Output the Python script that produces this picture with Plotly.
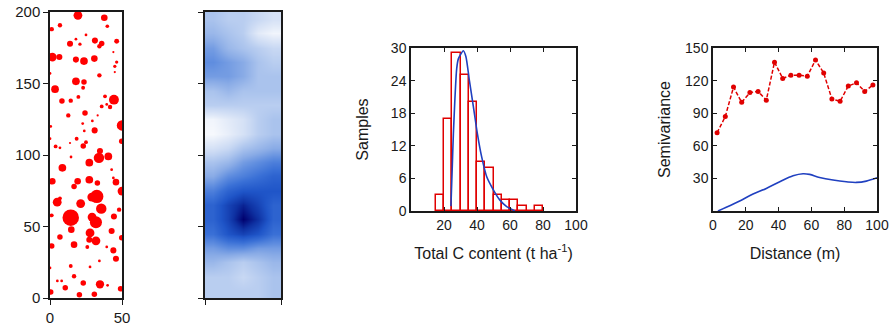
import plotly.graph_objects as go

# ---------------- Panel 1: tree map (bubbles) ----------------
tree_x = [19.4, 37.7, 1.2, 6.9, 39.8, 18.0, 13.9, 20.8, 25.0, 31.2, 35.9, 46.3, 34.3,
          1.6, 6.5, 18.0, 23.6, 30.8, 44.0, 46.3, 45.0, 0.0, 34.3, 45.0, 18.0, 23.6,
          3.5, 23.0, 8.3, 14.4, 19.7, 38.2, 44.4, 35.9, 39.4, 41.7, 12.7, 24.3, 33.1,
          50.0, 0.5, 22.7, 29.4, 31.0, 23.8, 0.0, 18.5, 49.8, 13.9, 25.0, 23.1, 3.9,
          6.9, 34.7, 34.0, 40.5, 14.6, 27.3, 8.6, 42.8, 1.6, 19.2, 27.3, 32.9, 44.0,
          45.8, 16.7, 50.0, 32.5, 29.0, 5.0, 21.3, 6.9, 35.6, 48.0, 1.2, 14.4, 29.2,
          31.9, 44.4, 14.8, 27.8, 42.8, 6.9, 31.9, 27.3, 49.8, 16.7, 25.9, 1.2, 39.4,
          44.0, 34.3, 45.8, 0.0, 14.4, 27.8, 16.7, 5.1, 8.1, 10.6, 23.1, 34.7, 40.0,
          49.0, 0.5, 20.4, 30.8]
tree_y = [197.7, 196.0, 188.0, 190.7, 190.0, 181.0, 177.8, 177.5, 184.0, 180.0, 178.0,
          179.5, 176.0, 168.5, 168.5, 166.7, 165.7, 167.4, 172.0, 165.0, 162.0, 157.0,
          155.7, 158.0, 151.5, 151.0, 146.0, 147.0, 137.8, 138.0, 140.6, 141.0, 138.7,
          134.0, 135.4, 133.6, 127.7, 129.4, 127.7, 120.7, 120.0, 122.0, 123.8, 117.2,
          116.8, 111.4, 111.4, 109.6, 108.4, 109.0, 106.3, 106.0, 105.0, 102.8, 98.0,
          99.0, 98.6, 94.6, 91.0, 89.7, 81.6, 81.6, 82.7, 80.4, 84.0, 81.0, 78.0, 74.8,
          71.0, 70.6, 67.0, 66.0, 69.7, 62.5, 61.8, 57.8, 56.2, 56.6, 53.0, 57.0, 47.8,
          45.5, 46.9, 42.7, 40.0, 40.8, 42.2, 37.3, 35.7, 36.4, 35.7, 33.3, 25.9, 27.5,
          21.0, 22.4, 21.7, 15.2, 11.9, 11.9, 7.2, 10.5, 9.6, 8.9, 6.5, 4.2, 2.3, 2.6]
tree_size = [8, 6, 4, 4, 3.3, 2.5, 5.5, 3, 2.5, 5.5, 5, 4.5, 4,
             8, 5.5, 5.5, 7, 6, 2, 3, 3, 2.5, 4, 2, 7, 5,
             7, 3.5, 5, 4, 3.5, 3.5, 9, 3.5, 2.5, 4, 4, 5, 2,
             9.5, 2.5, 2.5, 2.5, 5.5, 2.5, 2.5, 3.5, 5, 2, 3.5, 5, 3.5,
             2.5, 5.5, 9.5, 7, 2.5, 7, 7, 2.5, 6, 6, 7, 5, 2.5,
             6, 5, 8, 12, 8, 8, 8, 3.5, 9.5, 4, 3.5, 15, 8,
             11, 5.5, 6, 8, 5.5, 5, 8, 5.5, 5, 6, 3.5, 5, 2.5,
             5.5, 2.5, 5.5, 2.5, 3.5, 2.5, 4, 2.5, 2.5, 5, 5, 7.5, 2.5,
             5, 5, 5, 5]

# ---------------- Panel 2: interpolated carbon map ----------------
map_x = [5, 15, 25, 35, 45]
map_y = [5, 15, 25, 35, 45, 55, 65, 75, 85, 95, 105, 115, 125, 135, 145, 155, 165, 175, 185, 195]
map_z = [
    [2.5, 2.5, 2.5, 2.5, 3.0],
    [2.5, 2.5, 2.0, 2.5, 3.0],
    [3.5, 3.0, 2.5, 3.0, 3.5],
    [4.5, 5.0, 5.0, 4.5, 4.5],
    [6.0, 7.0, 7.5, 7.0, 6.0],
    [6.5, 7.5, 9.0, 8.0, 6.5],
    [6.5, 7.5, 8.3, 7.5, 6.5],
    [5.5, 6.5, 7.0, 7.0, 7.0],
    [4.0, 5.0, 5.5, 6.0, 6.5],
    [3.0, 3.5, 4.5, 5.0, 5.5],
    [1.5, 2.0, 3.0, 3.5, 4.0],
    [0.3, 0.8, 1.5, 2.5, 3.0],
    [0.5, 1.0, 1.5, 2.5, 3.0],
    [2.5, 2.5, 2.5, 2.5, 2.5],
    [3.0, 3.5, 3.0, 3.0, 3.0],
    [4.5, 4.5, 4.0, 3.0, 3.0],
    [5.0, 4.5, 4.0, 3.0, 2.5],
    [4.5, 3.5, 3.0, 2.5, 2.0],
    [3.5, 3.0, 2.5, 1.0, 0.5],
    [3.0, 2.5, 2.5, 2.0, 1.5],
]

# ---------------- Panel 3: histogram ----------------
bin_left = [15, 20, 25, 30, 35, 40, 45, 50, 55, 60, 65, 70, 75]
bin_count = [3, 17, 29, 25, 20, 9, 8, 3, 2, 2, 1, 0, 1]
fit_x = [24.2, 25.0, 25.7, 27.7, 28.7, 31.7, 33.3, 35.4, 37.8, 40.2, 42.8, 45.9, 49.9, 53.9, 58.0, 63.0]
fit_y = [0.9, 8.0, 14.3, 26.2, 28.0, 29.5, 28.4, 24.0, 19.2, 14.3, 10.0, 6.3, 3.9, 2.0, 0.8, 0.0]

# ---------------- Panel 4: semivariogram ----------------
lag_x = [2.5, 7.5, 12.5, 17.5, 22.5, 27.5, 32.5, 37.5, 42.5, 47.5,
         52.5, 57.5, 62.5, 67.5, 72.5, 77.5, 82.5, 87.5, 92.5, 97.5]
semivar_obs = [72, 87, 114, 100, 109, 110, 102, 137, 122, 125,
               125, 124, 139, 127, 103, 101, 115, 118, 110, 116]
model_x = [3, 8.1, 16.3, 24.4, 32.5, 40.7, 48.8, 54.9, 58.9, 65.0, 73.2, 81.3, 87.4, 93.5, 100]
model_y = [0, 3.4, 9.2, 15.6, 20.8, 26.9, 32.4, 34.3, 33.7, 30.9, 28.5, 26.9, 26.3, 27.5, 30.6]

W, H = 895, 327
FONT = "Liberation Sans, Arial, sans-serif"
TXT = "#1a1a1a"


def px_x(a, b):
    return [a / W, b / W]


def px_y(top, bottom):
    return [1 - bottom / H, 1 - top / H]


fig = go.Figure()

fig.add_trace(go.Scatter(
    x=tree_x, y=tree_y, mode="markers",
    marker=dict(size=[s * 1.1 for s in tree_size], color="#ff0000", opacity=1,
                line=dict(width=0)),
    xaxis="x", yaxis="y", showlegend=False, cliponaxis=True))

fig.add_trace(go.Heatmap(
    x=map_x, y=map_y, z=map_z, zmin=0, zmax=9, zsmooth="best", showscale=False,
    colorscale=[[0.0, "#ffffff"], [1 / 9, "#e2eaf8"], [2 / 9, "#c8d8f3"],
                [3 / 9, "#aac3ed"], [4 / 9, "#89abe6"], [5 / 9, "#5f8ddf"],
                [6 / 9, "#3a70d6"], [7 / 9, "#1f55c8"], [8 / 9, "#0e31a2"],
                [1.0, "#00006e"]],
    xaxis="x2", yaxis="y2"))

fig.add_trace(go.Bar(
    x=[b + 2.5 for b in bin_left], y=bin_count, width=5,
    marker=dict(color="white", line=dict(color="#e00000", width=1.5)),
    xaxis="x3", yaxis="y3", showlegend=False))

fig.add_trace(go.Scatter(
    x=fit_x, y=fit_y, mode="lines", line=dict(color="#2040c0", width=1.6, shape="spline", smoothing=0.6),
    xaxis="x3", yaxis="y3", showlegend=False))

fig.add_trace(go.Scatter(
    x=lag_x, y=semivar_obs, mode="lines+markers",
    line=dict(color="#e00000", width=1.5, dash="4px,2px"),
    marker=dict(color="#e00000", size=5),
    xaxis="x4", yaxis="y4", showlegend=False))

fig.add_trace(go.Scatter(
    x=model_x, y=model_y, mode="lines", line=dict(color="#2040c0", width=1.6, shape="spline"),
    xaxis="x4", yaxis="y4", showlegend=False))

common = dict(showline=True, linecolor="#1a1a1a", linewidth=1.5, showgrid=False,
              zeroline=False, tickcolor="#1a1a1a", tickwidth=1.2, automargin=False)
tf14 = dict(family=FONT, size=14, color=TXT)
tf15 = dict(family=FONT, size=15, color=TXT)
title_font = dict(family=FONT, size=16, color=TXT)

fig.update_layout(
    width=W, height=H, margin=dict(l=0, r=0, t=0, b=0),
    paper_bgcolor="white", plot_bgcolor="white",
    font=dict(family=FONT, color=TXT),
    bargap=0,
    # panel 1
    xaxis=dict(domain=px_x(50, 122), range=[0, 50], tickvals=[0, 50], ticks="outside",
               ticklen=5, mirror=True, anchor="y", tickfont=tf15, **common),
    yaxis=dict(domain=px_y(12, 298), range=[0, 200], tickvals=[0, 50, 100, 150, 200], ticks="outside",
               ticklen=5, mirror=True, anchor="x", tickfont=tf15, **common),
    # panel 2
    xaxis2=dict(domain=px_x(205, 281), range=[0, 50], tickvals=[0, 50], ticks="outside", ticklen=5,
                showticklabels=False, mirror=True, anchor="y2", **common),
    yaxis2=dict(domain=px_y(12, 298), range=[0, 200], tickvals=[0, 50, 100, 150, 200], ticks="outside",
                ticklen=5, showticklabels=False, mirror=True, anchor="x2", **common),
    # panel 3
    xaxis3=dict(domain=px_x(411, 576), range=[0, 100], tickvals=[20, 40, 60, 80, 100], ticks="inside",
                ticklen=4, mirror="ticks", anchor="y3", tickfont=tf14,
                title=dict(text="Total C content (t ha<sup>-1</sup>)", font=title_font, standoff=16),
                **common),
    yaxis3=dict(domain=px_y(48, 211), range=[0, 30], tickvals=[0, 6, 12, 18, 24, 30], ticks="inside",
                ticklen=4, mirror="ticks", anchor="x3", tickfont=tf14,
                title=dict(text="Samples", font=title_font, standoff=18),
                **common),
    # panel 4
    xaxis4=dict(domain=px_x(713, 877), range=[0, 100], tickvals=[0, 20, 40, 60, 80, 100], ticks="inside",
                ticklen=4, mirror="ticks", anchor="y4", tickfont=tf14,
                title=dict(text="Distance (m)", font=title_font, standoff=16),
                **common),
    yaxis4=dict(domain=px_y(48, 211), range=[0, 150], tickvals=[30, 60, 90, 120, 150], ticks="inside",
                ticklen=4, mirror="ticks", anchor="x4", tickfont=tf14,
                title=dict(text="Semivariance", font=title_font, standoff=10),
                **common),
)

fig.write_html("out.html", config={"displayModeBar": False},
               post_script="document.body.style.margin='0';document.body.style.padding='0';")
